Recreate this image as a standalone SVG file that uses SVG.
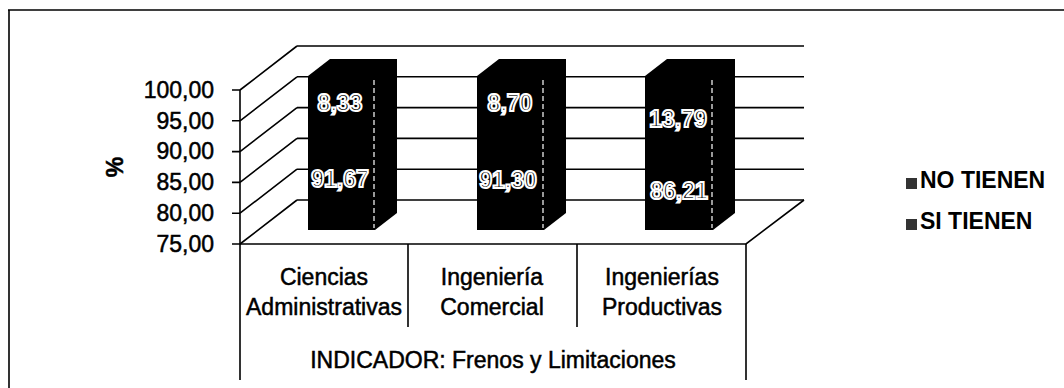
<svg xmlns="http://www.w3.org/2000/svg" width="1064" height="388" viewBox="0 0 1064 388">
  <style>
    .ln { stroke: #000; stroke-width: 1.6; fill: none; }
    .axis { font-family: "Liberation Sans", Arial, sans-serif; font-size: 23px; fill: #000; stroke: #000; stroke-width: 0.5; }
    .cat { font-family: "Liberation Sans", Arial, sans-serif; font-size: 23px; fill: #000; stroke: #000; stroke-width: 0.5; text-anchor: middle; }
    .val { font-family: "Liberation Sans", Arial, sans-serif; font-size: 23px; font-weight: bold; fill: #000; stroke: #fff; stroke-width: 2; text-anchor: middle; }
    .leg { font-family: "Liberation Sans", Arial, sans-serif; font-size: 23px; font-weight: bold; fill: #000; }
    .bar { fill: #000; }
    .edge { stroke: #fff; stroke-width: 1.2; stroke-dasharray: 5 3; fill: none; }
  </style>
  <rect width="1064" height="388" fill="#fff"/>
  <g id="frame">
    <path class="ln" d="M8 10 H1064 M9 10 V388"/>
  </g>
  <g id="grid">
    <path class="ln" d="M297 46 H804 M297 76.8 H804 M297 107.6 H804 M297 138.4 H804 M297 169.2 H804 M297 200 H804"/>
    <path class="ln" d="M240 90 L297 46 M240 120.8 L297 76.8 M240 151.6 L297 107.6 M240 182.4 L297 138.4 M240 213.2 L297 169.2 M240 244 L297 200"/>
    <path class="ln" d="M240 244 H746 L804 200"/>
    <path class="ln" d="M240 90 V380 M232 90 H240 M232 120.8 H240 M232 151.6 H240 M232 182.4 H240 M232 213.2 H240 M232 244 H240"/>
    <path class="ln" d="M408 244 V327 M577 244 V327 M746 244 V380"/>
  </g>
  <g id="y-axis-labels" class="axis" text-anchor="end">
    <text x="214" y="98">100,00</text>
    <text x="214" y="129">95,00</text>
    <text x="214" y="159">90,00</text>
    <text x="214" y="190">85,00</text>
    <text x="214" y="221">80,00</text>
    <text x="214" y="252">75,00</text>
  </g>
  <text id="y-title" class="axis" font-weight="bold" text-anchor="middle" transform="translate(123 167) rotate(-90)">%</text>
  <g id="bar-ciencias">
    <polygon class="bar" points="308,76 330,59 397,59 397,213 375,230 308,230"/>
    <line class="edge" x1="374" y1="80" x2="374" y2="228"/>
    <text class="val" x="340" y="111">8,33</text>
    <text class="val" x="340" y="187">91,67</text>
  </g>
  <g id="bar-comercial">
    <polygon class="bar" points="477,76 499,59 566,59 566,213 544,230 477,230"/>
    <line class="edge" x1="543" y1="80" x2="543" y2="228"/>
    <text class="val" x="510" y="111">8,70</text>
    <text class="val" x="508" y="188">91,30</text>
  </g>
  <g id="bar-productivas">
    <polygon class="bar" points="645,76 667,59 735,59 735,213 713,230 645,230"/>
    <line class="edge" x1="712" y1="80" x2="712" y2="228"/>
    <text class="val" x="678" y="127">13,79</text>
    <text class="val" x="679" y="199">86,21</text>
  </g>
  <g id="categories" class="cat">
    <text x="324" y="285">Ciencias</text>
    <text x="324" y="315">Administrativas</text>
    <text x="492" y="285">Ingeniería</text>
    <text x="492" y="315">Comercial</text>
    <text x="662" y="285">Ingenierías</text>
    <text x="662" y="315">Productivas</text>
    <text x="493" y="368">INDICADOR: Frenos y Limitaciones</text>
  </g>
  <g id="legend-no">
    <rect x="906" y="178" width="11" height="11" fill="#333"/>
    <text class="leg" x="920" y="188">NO TIENEN</text>
  </g>
  <g id="legend-si">
    <rect x="906" y="219" width="11" height="11" fill="#333"/>
    <text class="leg" x="920" y="229">SI TIENEN</text>
  </g>
</svg>
